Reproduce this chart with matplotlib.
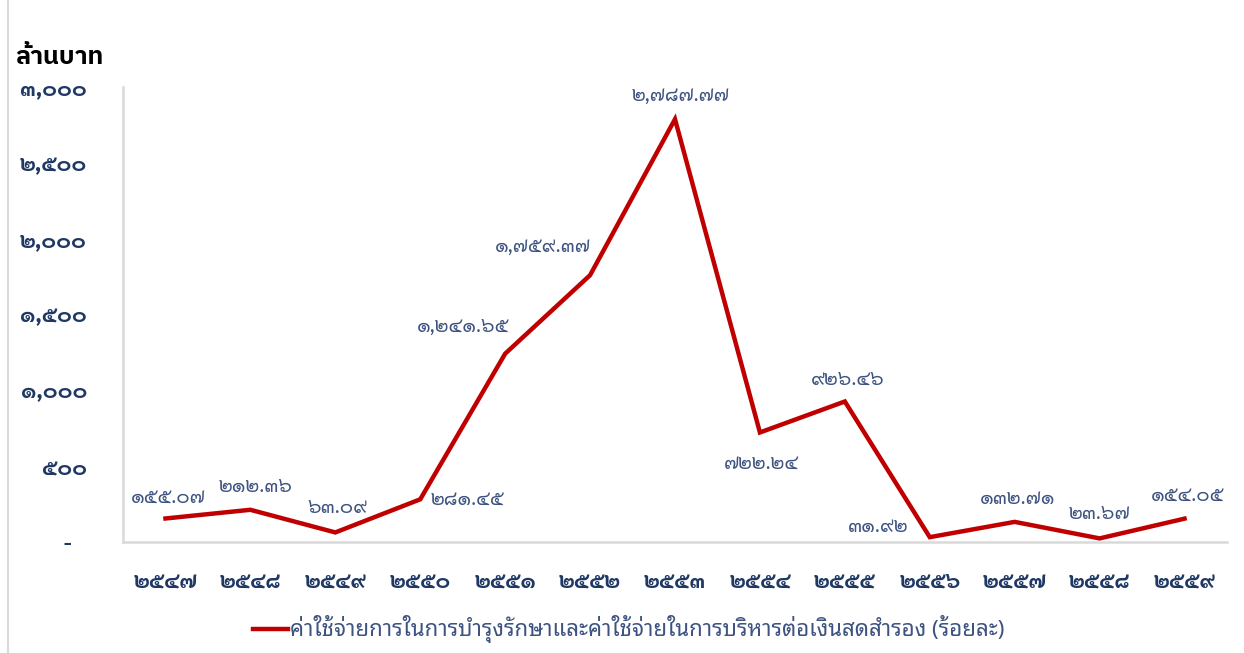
import matplotlib
matplotlib.use("Agg")
import matplotlib.pyplot as plt
from matplotlib.lines import Line2D

# Budget years (B.E.) and expense ratio values
years = [2547, 2548, 2549, 2550, 2551, 2552, 2553, 2554, 2555, 2556, 2557, 2558, 2559]
values = [155.07, 212.36, 63.09, 281.45, 1241.65, 1759.37, 2787.77,
          722.24, 926.46, 31.92, 132.71, 23.67, 154.05]
yticks = [0, 500, 1000, 1500, 2000, 2500, 3000]

series_label = "ค่าใช้จ่ายการในการบำรุงรักษาและค่าใช้จ่ายในการบริหารต่อเงินสดสำรอง (ร้อยละ)"
unit_label = "ล้านบาท"

# label offsets in pixels (dx, dy) relative to each point
label_offsets = [(3, 21), (5, 23), (2, 24), (47, 0), (-42, 27), (-47, 28), (5, 23),
                 (2, -31), (3, 22), (-52, 10), (3, 23), (0, 24), (3, 23)]

THAI_DIGITS = str.maketrans("0123456789", "๐๑๒๓๔๕๖๗๘๙")


def thai_num(v, fmt):
    return format(v, fmt).translate(THAI_DIGITS)


NUM_FONT = ["Sarabun", "DejaVu Sans"]
TXT_FONT = ["Noto Sans Thai Looped", "DejaVu Sans"]
LINE_RED = "#C00000"
TICK_BLUE = "#1F3864"
LABEL_BLUE = "#3E5380"
GRID_GREY = "#D9D9D9"

fig = plt.figure(figsize=(12.44, 6.53), dpi=100)
ax = fig.add_axes([123 / 1244, 1 - 542 / 653, (1227 - 123) / 1244, (542 - 87) / 653])

x = list(range(len(years)))
ax.plot(x, values, color=LINE_RED, linewidth=3.2, solid_joinstyle="miter")

for xi, v, (dx, dy) in zip(x, values, label_offsets):
    ax.annotate(thai_num(v, ",.2f"), (xi, v), xytext=(dx, dy),
                textcoords="offset pixels", ha="center", va="center",
                fontsize=14.5, color=LABEL_BLUE, family=NUM_FONT)

ax.set_xlim(-0.5, len(years) - 0.5)
ax.set_ylim(0, 3000)
ax.set_xticks(x)
ax.set_xticklabels([thai_num(y, "d") for y in years])
ax.set_yticks(yticks)
# accounting-style zero: a dash set in from the right edge
ax.set_yticklabels(["-   " if t == 0 else thai_num(t, ",d") for t in yticks])
for lab in ax.get_xticklabels() + ax.get_yticklabels():
    lab.set_family(NUM_FONT)
    lab.set_fontweight("bold")
    lab.set_fontsize(16)
    lab.set_color(TICK_BLUE)
ax.tick_params(axis="x", length=0, pad=21)
ax.tick_params(axis="y", length=0, pad=26)

for side in ("top", "right"):
    ax.spines[side].set_visible(False)
for side in ("left", "bottom"):
    ax.spines[side].set_color(GRID_GREY)
    ax.spines[side].set_linewidth(1.8)

fig.text(15 / 1244, 1 - 57 / 653, unit_label, fontsize=18, fontweight="bold",
         family=["IBM Plex Sans Thai", "DejaVu Sans"], va="center", ha="left")

# legend drawn by hand so the key sits snug against the text
fig.add_artist(Line2D([253 / 1244, 288 / 1244], [1 - 629 / 653] * 2,
                      color=LINE_RED, linewidth=3.2))
fig.text(290 / 1244, 1 - 629 / 653, series_label, fontsize=16, color=LABEL_BLUE,
         family=TXT_FONT, va="center", ha="left")

# outer frame edge on the left
fig.add_artist(Line2D([8 / 1244] * 2, [0, 1], color=GRID_GREY, linewidth=1.5))

fig.savefig("out.png", dpi=100)
